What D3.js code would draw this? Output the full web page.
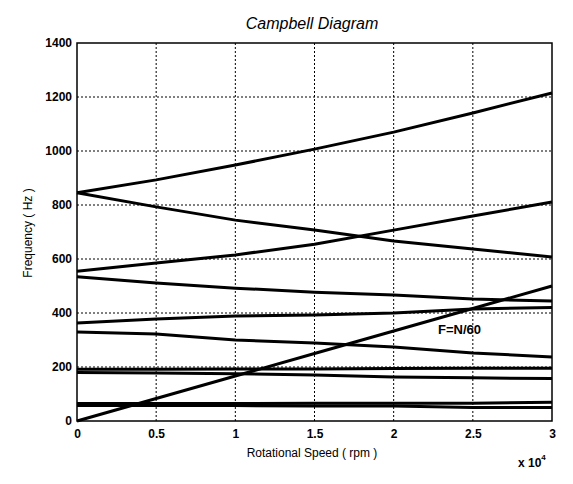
<!DOCTYPE html>
<html>
<head>
<meta charset="utf-8">
<script src="https://cdn.jsdelivr.net/npm/d3@7"></script>
<style>
  body { margin: 0; background: #fff; }
  text { font-family: Arial, "Liberation Sans", sans-serif; fill: #000; }
</style>
</head>
<body>
<svg class="campbell-svg" width="573" height="484"></svg>
<script>
// rotational speed samples (rpm)
var speeds = [0, 5000, 10000, 15000, 20000, 25000, 30000];

// natural frequencies (Hz), one array per mode
var mode1 = [845, 893, 948, 1007, 1070, 1141, 1215];
var mode2 = [845, 793, 744, 707, 667, 637, 607];
var mode3 = [555, 585, 615, 655, 707, 759, 811];
var mode4 = [534, 511, 492, 477, 467, 452, 444];
var mode5 = [363, 378, 389, 393, 400, 415, 420];
var mode6 = [330, 322, 300, 289, 274, 252, 237];
var mode7 = [192, 192, 193, 193, 194, 195, 195];
var mode8 = [180, 178, 175, 170, 163, 160, 157];
var mode9 = [65, 65, 65, 66, 66, 66, 69];
var mode10 = [57, 57, 57, 56, 56, 50, 50];
// excitation line F = N/60
var excitation = [0, 83.3, 166.7, 250, 333.3, 416.7, 500];

var xTicks = [0, 5000, 10000, 15000, 20000, 25000, 30000];
var xTickLabels = ["0", "0.5", "1", "1.5", "2", "2.5", "3"];
var yTicks = [0, 200, 400, 600, 800, 1000, 1200, 1400];

var svg = d3.select(".campbell-svg");
var plotLeft = 77, plotRight = 552, plotTop = 43, plotBottom = 421;

var x = d3.scaleLinear().domain([0, 30000]).range([plotLeft, plotRight]);
var y = d3.scaleLinear().domain([0, 1400]).range([plotBottom, plotTop]);

// grid
var grid = svg.append("g").attr("class", "grid");
grid.selectAll("line.gx")
    .data(xTicks.slice(1, -1))
    .enter().append("line")
    .attr("x1", function(d) { return x(d); })
    .attr("x2", function(d) { return x(d); })
    .attr("y1", plotTop).attr("y2", plotBottom)
    .attr("stroke", "#000").attr("stroke-width", 1)
    .attr("stroke-dasharray", "2,2");
grid.selectAll("line.gy")
    .data(yTicks.slice(1, -1))
    .enter().append("line")
    .attr("y1", function(d) { return y(d); })
    .attr("y2", function(d) { return y(d); })
    .attr("x1", plotLeft).attr("x2", plotRight)
    .attr("stroke", "#000").attr("stroke-width", 1)
    .attr("stroke-dasharray", "2,2");

// axes
var xAxis = d3.axisBottom(x).tickValues(xTicks).tickSize(0).tickPadding(8)
    .tickFormat(function(d, i) { return xTickLabels[i]; });
var yAxis = d3.axisLeft(y).tickValues(yTicks).tickSize(0).tickPadding(5)
    .tickFormat(d3.format("d"));

var gx = svg.append("g").attr("transform", "translate(0," + plotBottom + ")").call(xAxis);
var gy = svg.append("g").attr("transform", "translate(" + plotLeft + ",0)").call(yAxis);
[gx, gy].forEach(function(g) {
    g.select(".domain").remove();
    g.selectAll("text").style("font-size", "12px").style("font-weight", "bold")
        .style("font-family", "Arial, 'Liberation Sans', sans-serif");
});

// frame
svg.append("rect")
    .attr("x", plotLeft).attr("y", plotTop)
    .attr("width", plotRight - plotLeft).attr("height", plotBottom - plotTop)
    .attr("fill", "none").attr("stroke", "#000").attr("stroke-width", 1.5);

// curves
var modes = [mode1, mode2, mode3, mode4, mode5, mode6, mode7, mode8, mode9, mode10, excitation];
var line = d3.line()
    .x(function(d, i) { return x(speeds[i]); })
    .y(function(d) { return y(d); });

svg.append("g").attr("class", "modes")
    .selectAll("path")
    .data(modes)
    .enter().append("path")
    .attr("d", line)
    .attr("fill", "none")
    .attr("stroke", "#000")
    .attr("stroke-width", 3);

// labels
svg.append("text")
    .attr("x", x(22800)).attr("y", y(322))
    .style("font-size", "13px").style("font-weight", "bold")
    .text("F=N/60");

svg.append("text")
    .attr("x", 312).attr("y", 29)
    .attr("text-anchor", "middle")
    .style("font-size", "16px").style("font-style", "italic")
    .text("Campbell Diagram");

svg.append("text")
    .attr("x", 312).attr("y", 457)
    .attr("text-anchor", "middle")
    .style("font-size", "12px")
    .text("Rotational Speed ( rpm )");

svg.append("text")
    .attr("transform", "translate(32,233) rotate(-90)")
    .attr("text-anchor", "middle")
    .style("font-size", "12px")
    .text("Frequency ( Hz )");

var exp = svg.append("text")
    .attr("x", 518).attr("y", 467)
    .style("font-size", "12px").style("font-weight", "bold");
exp.append("tspan").text("x 10");
exp.append("tspan").attr("dy", -7).style("font-size", "8px").text("4");
</script>
</body>
</html>
